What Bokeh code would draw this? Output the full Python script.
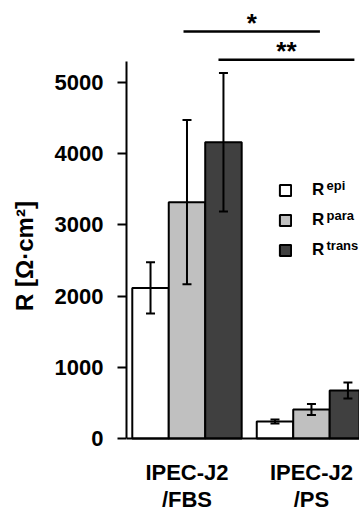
from bokeh.plotting import figure
from bokeh.models import (ColumnDataSource, Whisker, TeeHead, Legend, LegendItem,
                          Label, FixedTicker, Range1d, LinearAxis)
from bokeh.embed import file_html
from bokeh.resources import INLINE
from bokeh.core.properties import value

# ---------------- data ----------------
groups = ["IPEC-J2\n/FBS", "IPEC-J2\n/PS"]
series = ["epi", "para", "trans"]
r_epi = [2115, 239]
r_epi_err = [360, 28]
r_para = [3320, 407]
r_para_err = [1155, 77]
r_trans = [4162, 674]
r_trans_err = [972, 112]
colors = ["#ffffff", "#c0c0c0", "#404040"]
y_ticks = [0, 1000, 2000, 3000, 4000, 5000]
sig_labels = ["*", "**"]
sig_start = [0.972, 1.253]
sig_end = [2.068, 2.345]
sig_y = [5716, 5319]

group_pos = [1, 2]
bar_w = 0.293
offsets = [-bar_w, 0.0, bar_w]
FONT = "Liberation Sans"

p = figure(width=359, height=511,
           x_range=Range1d(0.514, 2.386), y_range=Range1d(-1025, 6152),
           output_backend="svg", toolbar_location=None,
           min_border_left=126, min_border_right=0,
           min_border_top=0, min_border_bottom=0)
p.outline_line_color = None
p.grid.visible = False

values = [r_epi, r_para, r_trans]
errors = [r_epi_err, r_para_err, r_trans_err]
renderers = []
for k in range(3):
    xs = [g + offsets[k] for g in group_pos]
    src = ColumnDataSource(dict(
        x=xs, top=values[k],
        upper=[v + e for v, e in zip(values[k], errors[k])],
        lower=[v - e for v, e in zip(values[k], errors[k])]))
    r = p.vbar(x="x", top="top", width=bar_w, bottom=0, source=src,
               fill_color=colors[k], line_color="black", line_width=2)
    renderers.append(r)
    w = Whisker(base="x", upper="upper", lower="lower", source=src,
                level="annotation",
                line_color="black", line_width=2,
                upper_head=TeeHead(size=9, line_width=2, line_color="black"),
                lower_head=TeeHead(size=9, line_width=2, line_color="black"))
    p.add_layout(w)

# significance brackets
p.segment(x0=sig_start, x1=sig_end, y0=sig_y, y1=sig_y,
          line_color="black", line_width=2.5)
p.text(x=[(a + b) / 2 for a, b in zip(sig_start, sig_end)], y=sig_y,
       text=sig_labels, text_align="center", text_baseline="alphabetic",
       y_offset=-9,
       text_font=value(FONT), text_font_style="bold", text_font_size="26px",
       text_color="black")

# x axes (drawn at y = 0): first and second line of the group labels
line1 = [g.split("\n")[0] for g in groups]
line2 = [g.split("\n")[1] for g in groups]


def style_x(ax, labels, standoff):
    ax.fixed_location = 0
    ax.ticker = FixedTicker(ticks=group_pos)
    ax.major_label_overrides = {gp: lab for gp, lab in zip(group_pos, labels)}
    ax.major_tick_line_color = None
    ax.minor_tick_line_color = None
    ax.major_label_standoff = standoff
    ax.major_label_text_font = FONT
    ax.major_label_text_font_style = "bold"
    ax.major_label_text_font_size = "22px"
    ax.major_label_text_color = "black"


xa = p.xaxis[0]
style_x(xa, line1, 15)
xa.axis_line_width = 2
xa2 = LinearAxis()
style_x(xa2, line2, 42)
xa2.axis_line_color = None
p.add_layout(xa2, "below")

ya = p.yaxis[0]
ya.ticker = FixedTicker(ticks=y_ticks)
ya.bounds = (0, 5290)
ya.minor_tick_line_color = None
ya.major_tick_in = 0
ya.major_tick_out = 9
ya.major_tick_line_width = 2
ya.axis_line_width = 2
ya.major_label_standoff = 14
ya.major_label_text_font = FONT
ya.major_label_text_font_style = "bold"
ya.major_label_text_font_size = "22px"
ya.major_label_text_color = "black"
ya.axis_label = "R [Ω·cm²]"
ya.axis_label_text_font = FONT
ya.axis_label_text_font_style = "bold"
ya.axis_label_text_font_size = "24px"
ya.axis_label_text_color = "black"
ya.axis_label_standoff = 14

# legend
legend = Legend(items=[LegendItem(label="R", renderers=[r]) for r in renderers],
                location=(152, 251), padding=0, margin=0, spacing=10,
                glyph_width=14, glyph_height=14, label_height=20,
                label_standoff=20, border_line_color=None,
                background_fill_alpha=0,
                label_text_font=FONT, label_text_font_style="bold",
                label_text_font_size="17px", label_text_color="black")
p.add_layout(legend)
for k, s in enumerate(series):
    p.add_layout(Label(x=200, y=334 - 30 * k, x_units="screen", y_units="screen",
                       text=s, text_font=FONT, text_font_style="bold",
                       text_font_size="13px", text_baseline="top",
                       text_color="black"))

open("out.html", "w").write(file_html(p, INLINE))
